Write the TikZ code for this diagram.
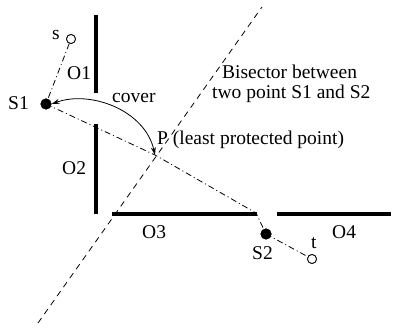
\documentclass[tikz,border=0pt]{standalone}
\usepackage{fontspec}
\setmainfont{Liberation Serif}
\usetikzlibrary{arrows.meta}
\begin{document}
\begin{tikzpicture}[x=1pt,y=-1pt,
  lbl/.style={inner sep=0pt,anchor=base west,font=\fontsize{19.5}{20}\selectfont},
  wall/.style={line width=3.5pt},
  opennode/.style={circle,draw,fill=white,minimum size=9pt,inner sep=0pt,line width=0.8pt},
  solidnode/.style={circle,fill=black,minimum size=11pt,inner sep=0pt},
  dashdot/.style={line width=0.8pt,dash pattern=on 6pt off 3pt on 1pt off 3pt},
  bisect/.style={line width=0.8pt,dash pattern=on 6pt off 5pt},
  cov/.style={line width=0.8pt,{Stealth[length=8pt,width=5pt]}-{Stealth[length=8pt,width=5pt]}}]
\useasboundingbox (0,0) rectangle (394,331);
% coordinates
\coordinate (B1) at (38,323);
\coordinate (B2) at (262,7);
\coordinate (P) at (155,155);
\coordinate (C) at (256,213);
\coordinate (O1a) at (96,15);  \coordinate (O1b) at (96,93);
\coordinate (O2a) at (96,124); \coordinate (O2b) at (96,214);
\coordinate (O3a) at (112,214); \coordinate (O3b) at (257,214);
\coordinate (O4a) at (277,214); \coordinate (O4b) at (391,214);
% points
\node[opennode] (s) at (71,39) {};
\node[solidnode] (S1) at (46,104) {};
\node[solidnode] (S2) at (266,234) {};
\node[opennode] (t) at (312,259) {};
% bisector
\draw[bisect] (B1) -- (B2);
% paths
\draw[dashdot] (s) -- (S1.center);
\draw[dashdot] (S1.center) -- (P) -- (C) -- (S2.center) -- (t);
% walls
\draw[wall] (O1a) -- (O1b);
\draw[wall] (O2a) -- (O2b);
\draw[wall] (O3a) -- (O3b);
\draw[wall] (O4a) -- (O4b);
% redraw points on top
\node[opennode] at (s) {};
\node[solidnode] at (S1) {};
\node[solidnode] at (S2) {};
\node[opennode] at (t) {};
% cover arrow
\draw[cov] (S1.east) .. controls (90,90) and (145,110) .. (P);
% labels
\node[lbl] (ls) at (52,40) {s};
\node[lbl] (lS1) at (8,110) {S1};
\node[lbl] (lO1) at (67,80) {O1};
\node[lbl] (lO2) at (62,175) {O2};
\node[lbl] (lO3) at (142,239) {O3};
\node[lbl] (lO4) at (332,239) {O4};
\node[lbl] (lS2) at (252,260) {S2};
\node[lbl] (lt) at (311,249) {t};
\node[lbl] (lcover) at (112,103) {cover};
\node[lbl] (lP) at (157,145) {P (least protected point)};
\node[lbl] (lbis1) at (222,79) {Bisector between};
\node[lbl] (lbis2) at (212,99) {two point S1 and S2};
\end{tikzpicture}
\end{document}
